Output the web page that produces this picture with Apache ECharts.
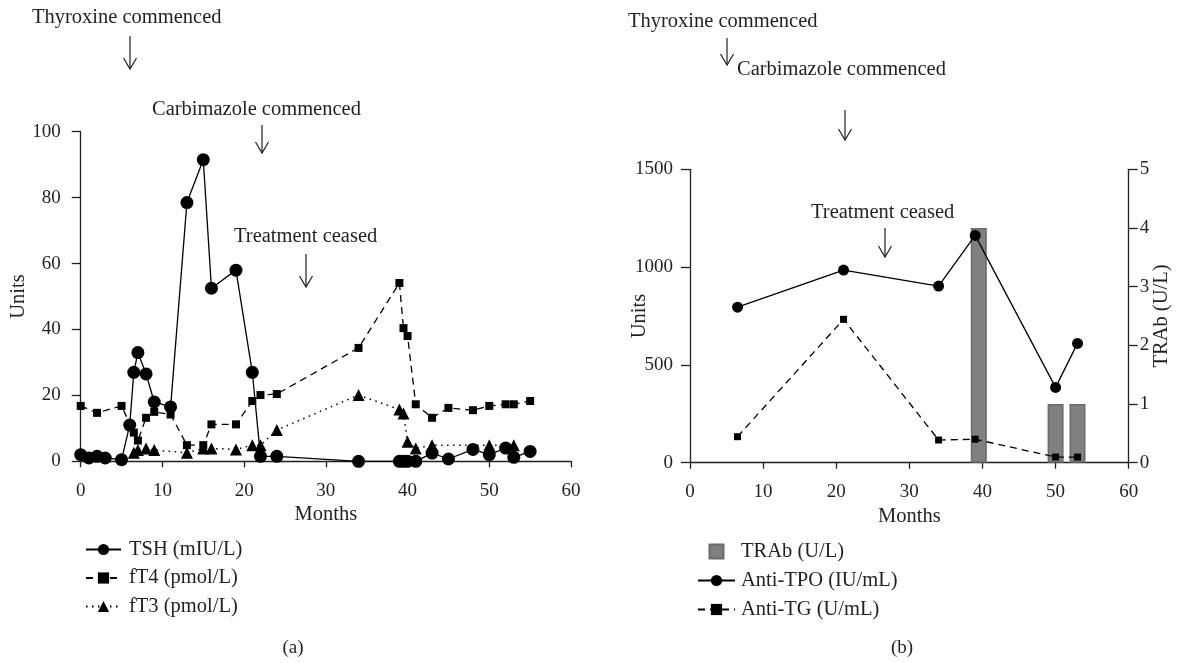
<!DOCTYPE html>
<html>
<head>
<meta charset="utf-8">
<script src="https://cdn.jsdelivr.net/npm/echarts@6/dist/echarts.min.js"></script>
<style>
html,body{margin:0;padding:0;background:#fff;}
#c{width:1189px;height:663px;}
</style>
</head>
<body>
<div id="c"></div>
<script>
// ---- Panel (a) data ----
const tshMonths = [0,1,2,3,5,6,6.5,7,8,9,11,13,15,16,19,21,22,24,34,39,39.5,40,41,43,45,48,50,52,53,55];
const tshValues = [2,1,1.5,1,0.5,11,27,33,26.5,18,16.5,78.5,91.5,52.5,58,27,1.5,1.5,0,0,0,0,0,2.5,0.7,3.6,2,4,1.2,3];
const ft4Months = [0,2,5,6.5,7,8,9,11,13,15,16,19,21,22,24,34,39,39.5,40,41,43,45,48,50,52,53,55];
const ft4Values = [16.8,14.7,16.8,8.7,6.3,13.2,15,14.2,4.9,4.9,11.2,11.2,18.3,20.1,20.4,34.4,54.1,40.4,38,17.3,13.2,16.2,15.5,16.8,17.3,17.3,18.3];
const ft3Months = [6.5,7,8,9,13,15,16,19,21,22,24,34,39,39.5,40,41,43,50,53];
const ft3Values = [2.6,3.4,3.9,3.4,2.6,3.9,3.9,3.6,4.9,4.9,9.5,20.1,15.7,14.5,5.9,3.9,4.9,4.9,4.9];
// ---- Panel (b) data ----
const tpoMonths = [6.5,21,34,39,50,53];
const tpoValues = [795,985,903,1162,385,610];
const tgMonths = [6.5,21,34,39,50,53];
const tgValues = [133,733,116,120,29,29];
const trabMonths = [39.5,50,53];
const trabValues = [4,1,1];
// ---- labels ----
const seriesNamesA = ['TSH (mIU/L)','fT4 (pmol/L)','fT3 (pmol/L)'];
const seriesNamesB = ['TRAb (U/L)','Anti-TPO (IU/mL)','Anti-TG (U/mL)'];
const annotationsA = ['Thyroxine commenced','Carbimazole commenced','Treatment ceased'];
const annotationsB = ['Thyroxine commenced','Carbimazole commenced','Treatment ceased'];

const pairs = (xs, ys) => xs.map((x, i) => [x, ys[i]]);
const FONT = 'Liberation Serif';
const FS = 19;     // tick labels
const FT = 20.5;   // other text
const INK = '#231f20';

const axisBase = {
  axisLine: {show: true, lineStyle: {color: INK, width: 1.3}},
  splitLine: {show: false},
  nameMoveOverlap: false,
  nameTextStyle: {color: INK, fontFamily: FONT, fontSize: FT}
};
function xAx(grid){
  return Object.assign({}, axisBase, {
    type: 'value', gridIndex: grid, min: 0, max: 60, interval: 10,
    name: 'Months', nameLocation: 'middle', nameGap: 43,
    axisTick: {show: true, length: 6, lineStyle: {color: INK, width: 1.3}},
    axisLabel: {color: INK, fontFamily: FONT, fontSize: FS, margin: 20}
  });
}
function yAx(grid, min, max, interval, pos, name, gap, margin){
  return Object.assign({}, axisBase, {
    type: 'value', gridIndex: grid, min: min, max: max, interval: interval, position: pos,
    name: name, nameLocation: 'middle', nameGap: gap, nameRotate: 90,
    axisTick: {show: true, length: 9, lineStyle: {color: INK, width: 1.3}},
    axisLabel: {color: INK, fontFamily: FONT, fontSize: FS, margin: margin, formatter: (v) => String(v)}
  });
}

function arrow(x, y1, y2){
  return [
    {type: 'line', shape: {x1: x, y1: y1, x2: x, y2: y2}, style: {stroke: INK, lineWidth: 1.2}},
    {type: 'polyline', shape: {points: [[x-6.5, y2-11], [x, y2], [x+6.5, y2-11]]}, style: {stroke: INK, lineWidth: 1.2, fill: null}}
  ];
}
function txt(text, x, y, align, size){
  return {type: 'text', x: x, y: y, style: {text: text, fill: INK, font: (size || FT) + 'px "' + FONT + '"', textAlign: align || 'left', textVerticalAlign: 'middle'}};
}

const graphics = [].concat(
  [txt(annotationsA[0], 32, 18), txt(annotationsA[1], 152, 110), txt(annotationsA[2], 234, 237)],
  arrow(130, 36, 69), arrow(262, 125, 153), arrow(306, 254, 287),
  [txt(annotationsB[0], 628, 22), txt(annotationsB[1], 737, 70), txt(annotationsB[2], 811, 213)],
  arrow(727, 38, 65), arrow(845, 110, 140), arrow(885, 228, 257),
  [txt('(a)', 293, 648, 'center', FS), txt('(b)', 902, 648, 'center', FS)]
);

const chart = echarts.init(document.getElementById('c'), null, {renderer: 'canvas'});
chart.setOption({
  backgroundColor: '#fff',
  animation: false,
  textStyle: {fontFamily: FONT},
  grid: [
    {left: 80.7, top: 131.7, width: 490.3, height: 329.6},
    {left: 690, top: 169.3, width: 438.7, height: 293.4}
  ],
  xAxis: [xAx(0), xAx(1)],
  yAxis: [
    yAx(0, 0, 100, 20, 'left', 'Units', 52, 20),
    yAx(1, 0, 1500, 500, 'left', 'Units', 40, 17),
    yAx(1, 0, 5, 1, 'right', 'TRAb (U/L)', 22, 11)
  ],
  legend: [
    {
      data: seriesNamesA, orient: 'vertical', left: 80, top: 534,
      itemWidth: 35, itemHeight: 14, itemGap: 7.5,
      textStyle: {color: INK, fontFamily: FONT, fontSize: FT, padding: [0,0,0,3]},
      selectedMode: false
    },
    {
      data: [
        {name: seriesNamesB[0], icon: 'path://M0,0h10v10h-10z'},
        seriesNamesB[1], seriesNamesB[2]
      ],
      orient: 'vertical', left: 692, top: 536,
      itemWidth: 37, itemHeight: 14, itemGap: 8,
      textStyle: {color: INK, fontFamily: FONT, fontSize: FT, padding: [0,0,0,1]},
      selectedMode: false
    }
  ],
  graphic: graphics,
  series: [
    {
      name: seriesNamesA[2], type: 'line', xAxisIndex: 0, yAxisIndex: 0,
      data: pairs(ft3Months, ft3Values),
      symbol: 'triangle', symbolSize: 12,
      itemStyle: {color: '#000'},
      lineStyle: {color: '#000', width: 1.5, type: [1.5, 4.5]}, z: 2
    },
    {
      name: seriesNamesA[1], type: 'line', xAxisIndex: 0, yAxisIndex: 0,
      data: pairs(ft4Months, ft4Values),
      symbol: 'rect', symbolSize: 8,
      itemStyle: {color: '#000'},
      lineStyle: {color: '#000', width: 1.3, type: [7, 5]}, z: 3
    },
    {
      name: seriesNamesA[0], type: 'line', xAxisIndex: 0, yAxisIndex: 0,
      data: pairs(tshMonths, tshValues),
      symbol: 'circle', symbolSize: 13,
      itemStyle: {color: '#000'},
      lineStyle: {color: '#000', width: 1.3}, z: 4
    },
    {
      name: seriesNamesB[0], type: 'bar', xAxisIndex: 1, yAxisIndex: 2,
      data: pairs(trabMonths, trabValues), barWidth: 16,
      itemStyle: {color: '#808080', borderColor: '#6b6b6b', borderWidth: 1.5}, z: 1
    },
    {
      name: seriesNamesB[1], type: 'line', xAxisIndex: 1, yAxisIndex: 1,
      data: pairs(tpoMonths, tpoValues),
      symbol: 'circle', symbolSize: 11,
      itemStyle: {color: '#000'},
      lineStyle: {color: '#000', width: 1.3}, z: 4
    },
    {
      name: seriesNamesB[2], type: 'line', xAxisIndex: 1, yAxisIndex: 1,
      data: pairs(tgMonths, tgValues),
      symbol: 'rect', symbolSize: 7,
      itemStyle: {color: '#000'},
      lineStyle: {color: '#000', width: 1.3, type: [7, 5]}, z: 3
    }
  ]
});
</script>
</body>
</html>
